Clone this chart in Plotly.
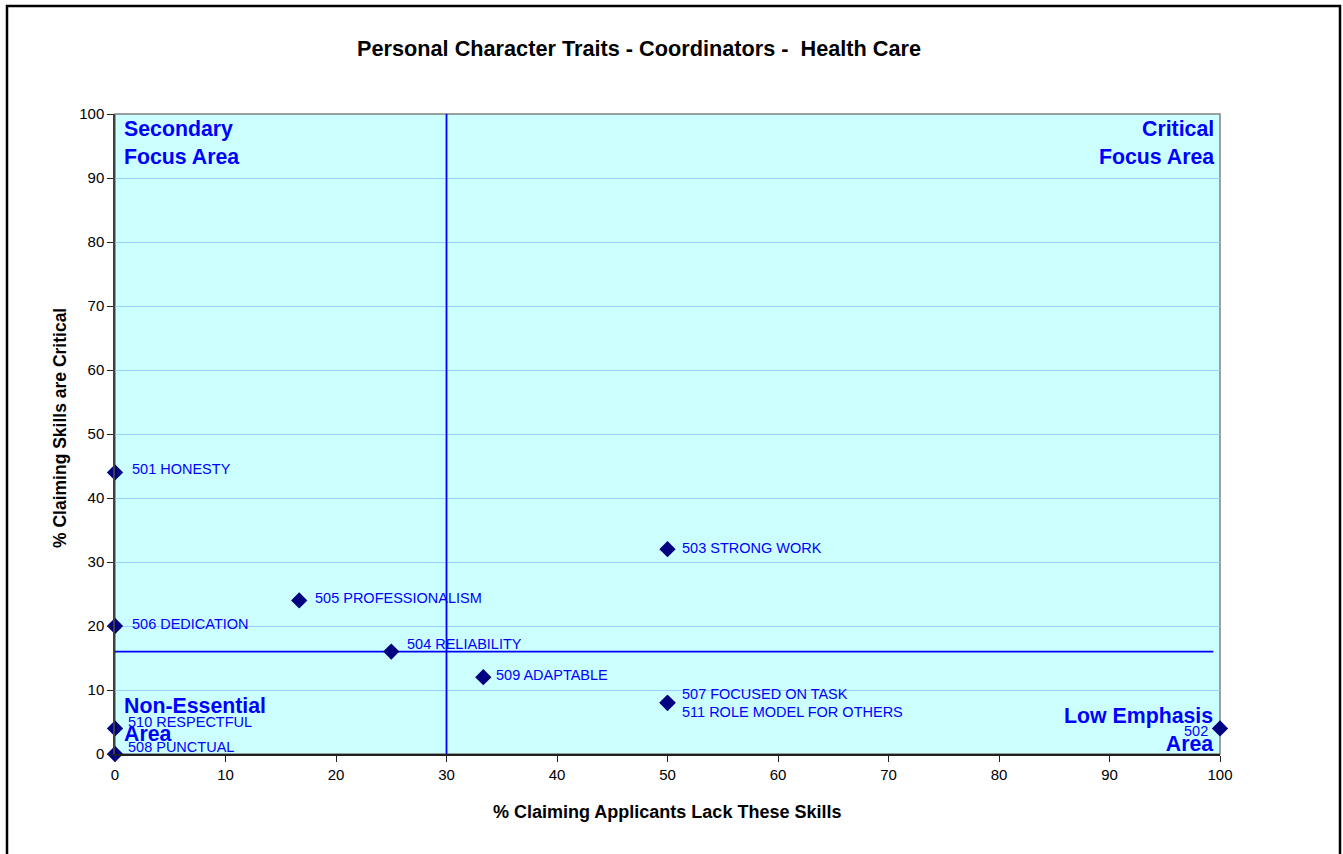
import plotly.graph_objects as go

# ---- data ----
lack_pct = [0, 100, 50, 25, 16.67, 0, 50, 0, 33.33, 0, 50]
critical_pct = [44, 4, 32, 16, 24, 20, 8, 0, 12, 4, 8]
skill_labels = ["501 HONESTY", "502", "503 STRONG WORK", "504 RELIABILITY",
                "505 PROFESSIONALISM", "506 DEDICATION", "507 FOCUSED ON TASK",
                "508 PUNCTUAL", "509 ADAPTABLE", "510 RESPECTFUL",
                "511 ROLE MODEL FOR OTHERS"]
# label offsets (pixels) for each data label
label_dx = [15, -10, 12, 14, 14, 15, 12, 11, 11, 11, 12]
label_dy = [3, -3, 1, 8, 2, 2, 9, 7, 2, 6, -9]

vline_x = [30, 30]
vline_y = [0, 100]
hline_x = [0, 99.4]
hline_y = [16, 16]

x_ticks = [0, 10, 20, 30, 40, 50, 60, 70, 80, 90, 100]
y_ticks = [0, 10, 20, 30, 40, 50, 60, 70, 80, 90, 100]

title_text = "Personal Character Traits - Coordinators -  Health Care"
x_title = "% Claiming Applicants Lack These Skills"
y_title = "% Claiming Skills are Critical"

FONT = "Arial, Liberation Sans, sans-serif"
BLUE = "#0000ff"

fig = go.Figure()
fig.add_trace(go.Scatter(x=vline_x, y=vline_y, mode="lines",
                         line=dict(color=BLUE, width=1.8), hoverinfo="skip",
                         showlegend=False, cliponaxis=False))
fig.add_trace(go.Scatter(x=hline_x, y=hline_y, mode="lines",
                         line=dict(color=BLUE, width=1.8), hoverinfo="skip",
                         showlegend=False, cliponaxis=False))
fig.add_trace(go.Scatter(x=lack_pct, y=critical_pct, mode="markers",
                         marker=dict(symbol="diamond", size=12.5, color="#000080"),
                         text=skill_labels, showlegend=False, cliponaxis=False))

annotations = []
for x, y, t, dx, dy in zip(lack_pct, critical_pct, skill_labels, label_dx, label_dy):
    annotations.append(dict(x=x, y=y, xref="x", yref="y", text=t, showarrow=False,
                            xanchor="left" if dx > 0 else "right", yanchor="middle",
                            xshift=dx, yshift=dy,
                            font=dict(family=FONT, size=14.5, color=BLUE)))

quad = [
    ("Secondary<br>Focus Area", 0, 100, "left", "top", 7, -1),
    ("Critical<br>Focus Area", 100, 100, "right", "top", -4, -1),
    ("Non-Essential<br>Area", 0, 0, "left", "bottom", 7, 6),
    ("Low Emphasis<br>Area", 100, 0, "right", "bottom", -5, -4),
]
for t, x, y, xa, ya, dx, dy in quad:
    annotations.append(dict(x=x, y=y, xref="x", yref="y", text="<b>%s</b>" % t,
                            showarrow=False, xanchor=xa, yanchor=ya, align=xa,
                            xshift=dx, yshift=dy,
                            font=dict(family=FONT, size=21.3, color=BLUE)))

annotations.append(dict(x=(638.5 - 115) / 1105, y=(754 - 48) / 640, xref="paper", yref="paper",
                        text="<b>%s</b>" % title_text, showarrow=False,
                        xanchor="center", yanchor="middle",
                        font=dict(family=FONT, size=21.7, color="black")))
annotations.append(dict(x=(667 - 115) / 1105, y=(754 - 812) / 640, xref="paper", yref="paper",
                        text="<b>%s</b>" % x_title, showarrow=False,
                        xanchor="center", yanchor="middle",
                        font=dict(family=FONT, size=18, color="black")))
annotations.append(dict(x=(60 - 115) / 1105, y=(754 - 428) / 640, xref="paper", yref="paper",
                        text="<b>%s</b>" % y_title, showarrow=False, textangle=-90,
                        xanchor="center", yanchor="middle",
                        font=dict(family=FONT, size=17.5, color="black")))

shapes = [
    # plot-area border (top/right gray)
    dict(type="rect", xref="paper", yref="paper", x0=0, y0=0, x1=1, y1=1,
         line=dict(color="#808080", width=1.5), layer="below"),
    # outer chart frame
    dict(type="rect", xref="paper", yref="paper",
         x0=(7 - 115) / 1105, x1=(1340 - 115) / 1105,
         y0=(754 - 862) / 640, y1=(754 - 6) / 640,
         line=dict(color="black", width=2.5)),
]

fig.update_layout(
    width=1343, height=854,
    margin=dict(l=115, r=123, t=114, b=100),
    paper_bgcolor="white", plot_bgcolor="#ccffff",
    font=dict(family=FONT, size=15, color="black"),
    annotations=annotations, shapes=shapes,
    showlegend=False,
)
fig.update_xaxes(range=[0, 100], tickvals=x_ticks, showgrid=False, zeroline=False,
                 showline=True, linecolor="#202020", linewidth=1.5,
                 ticks="outside", ticklen=6, tickcolor="#202020",
                 tickfont=dict(size=15, family=FONT, color="black"), fixedrange=True)
fig.update_yaxes(range=[0, 100], tickvals=y_ticks, showgrid=True, gridcolor="#99ccff",
                 gridwidth=1, zeroline=False,
                 showline=True, linecolor="#404040", linewidth=1.5,
                 ticks="outside", ticklen=6, tickcolor="#202020",
                 tickfont=dict(size=15, family=FONT, color="black"), fixedrange=True)

fig.write_html("out.html", config={"displayModeBar": False},
               post_script="document.body.style.margin='0';document.body.style.overflow='hidden';")
